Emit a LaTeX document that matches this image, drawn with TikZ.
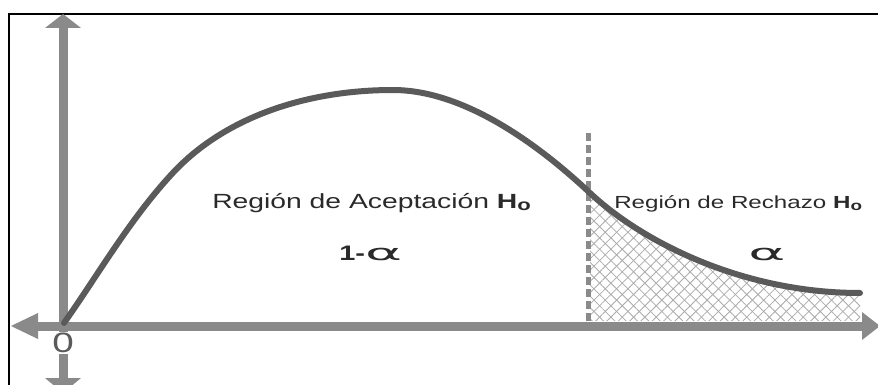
\documentclass[tikz,border=0pt]{standalone}
\usepackage{fontspec}
\setmainfont{Liberation Sans}
\newfontfamily\greekfont{DejaVu Sans}
\usetikzlibrary{patterns.meta}
\definecolor{axisgray}{HTML}{8A8A8A}
\definecolor{curvegray}{HTML}{5A5A5A}
\definecolor{textgray}{HTML}{2A2A2A}
\definecolor{hatchgray}{HTML}{ABABAB}
\tikzset{
  axisline/.style={draw=axisgray, line width=9pt},
  headfill/.style={fill=axisgray},
  curveline/.style={draw=curvegray, line width=6pt, line join=round, line cap=round},
  lbl/.style={text=textgray, inner sep=0pt, xscale=1.38},
}
\newcommand{\hsub}{\textbf{H}\raisebox{-0.12em}{\bfseries\fontsize{0.78em}{1em}\selectfont o}}
\newcommand{\bigalpha}{\scalebox{1.85}[1]{\greekfont\mdseries α}}
\newcommand{\bellpath}{(64,323) .. controls (96,278) and (128,222) .. (170,176)
  .. controls (222,118) and (305,90) .. (393,90)
  .. controls (465,90) and (540,146) .. (590,193)
  .. controls (640,240) and (740,293) .. (860,293)}
\begin{document}
\begin{tikzpicture}[x=1pt,y=-1pt]
\useasboundingbox (0,0) rectangle (878,385);
\fill[white] (0,0) rectangle (878,385);
% frame
\draw[black, line width=2pt] (9,386) -- (9,14) -- (879,14);
% named points
\coordinate (O) at (63,326);
\coordinate (xl) at (36,326);
\coordinate (xr) at (864,326);
\coordinate (yt) at (63,27);
\coordinate (yb) at (63,380);
\coordinate (dtop) at (588,133);
\coordinate (dbot) at (588,322);
% hatched rejection region
\begin{scope}
\clip (590,0) rectangle (861,321);
\fill[pattern={Lines[angle=45,distance=8pt,line width=0.8pt]}, pattern color=hatchgray]
  \bellpath -- (860,321) -- (64,321) -- cycle;
\fill[pattern={Lines[angle=-45,distance=8pt,line width=0.8pt]}, pattern color=hatchgray]
  \bellpath -- (860,321) -- (64,321) -- cycle;
\end{scope}
% axes
\path[axisline] (xl) -- (xr);
\path[axisline] (yt) -- (yb);
\fill[headfill] (11,326) -- (38,313) -- (38,339) -- cycle;
\fill[headfill] (880,326) -- (862,312) -- (862,340) -- cycle;
\fill[headfill] (63,14) -- (45,28) -- (81,28) -- cycle;
\fill[headfill] (63,393) -- (45,378) -- (81,378) -- cycle;
% critical value
\draw[axisgray, line width=5pt, dash pattern=on 8pt off 4pt] (dtop) -- (dbot);
% curve
\path[curveline] \bellpath;
% labels
\node[lbl, fill=white, inner sep=1pt, font=\fontsize{28}{28}\selectfont, text=curvegray] (zero) at (63,343) {0};
\node[lbl, font=\fontsize{20.5}{24}\selectfont, anchor=base west] (acc) at (212,208) {Región de Aceptación \hsub};
\node[lbl, font=\fontsize{21}{24}\selectfont\bfseries, anchor=base west] (oneminus) at (339,260) {1-{\fontsize{22}{24}\selectfont\bigalpha}};
\node[lbl, font=\fontsize{17.5}{20}\selectfont, anchor=base west] (rej) at (614,208) {Región de Rechazo \hsub};
\node[lbl, font=\fontsize{22}{24}\selectfont, anchor=base west] (alpha) at (748,260) {\bigalpha};
\end{tikzpicture}
\end{document}
